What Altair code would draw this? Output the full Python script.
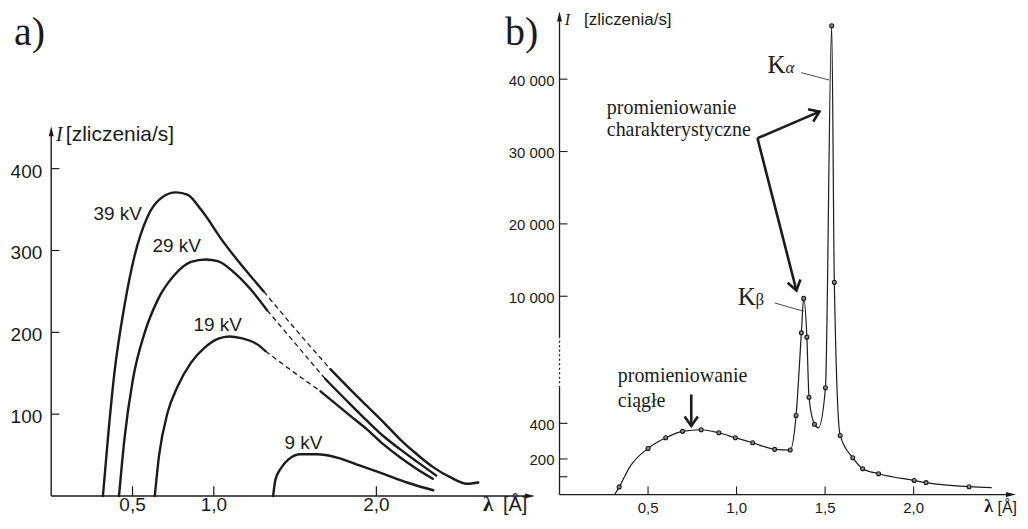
import altair as alt
import pandas as pd

# ---------------- panel a: continuous spectra for four tube voltages ----------------
v39_rise_lam = [0.318, 0.348, 0.389, 0.450, 0.512, 0.594, 0.676, 0.768, 0.840, 0.921, 1.064, 1.208, 1.307]
v39_rise_I = [0, 69, 151, 232, 293, 342, 364, 371, 368, 350, 309, 273, 250]
v39_dash_lam = [1.307, 1.510, 1.717]
v39_dash_I = [250, 202, 155]
v39_tail_lam = [1.717, 1.840, 1.942, 2.044, 2.147, 2.249, 2.351, 2.454, 2.556, 2.627]
v39_tail_I = [155, 130, 110, 90, 69, 51, 35, 23, 15, 16.5]

v29_rise_lam = [0.417, 0.450, 0.502, 0.574, 0.656, 0.758, 0.860, 0.952, 1.024, 1.126, 1.229, 1.328]
v29_rise_I = [0, 69, 142, 199, 240, 270, 286, 289, 287, 273, 252, 227]
v29_dash_lam = [1.328, 1.507, 1.686]
v29_dash_I = [227, 185, 143]
v29_tail_lam = [1.686, 1.840, 1.942, 2.044, 2.147, 2.249, 2.368]
v29_tail_I = [143, 112, 92, 73, 57, 42, 25]

v19_rise_lam = [0.637, 0.663, 0.716, 0.778, 0.860, 0.942, 1.024, 1.096, 1.167, 1.270, 1.318]
v19_rise_I = [0, 49, 102, 134, 163, 181, 192, 195, 193, 185, 177]
v19_dash_lam = [1.318, 1.487, 1.656]
v19_dash_I = [177, 152, 128]
v19_tail_lam = [1.656, 1.840, 1.942, 2.044, 2.147, 2.249, 2.347]
v19_tail_I = [128, 98, 81.5, 63, 47, 33, 21]

v9_lam = [1.365, 1.379, 1.410, 1.461, 1.533, 1.635, 1.758, 1.901, 2.044, 2.188, 2.350]
v9_I = [0, 20, 33, 45, 51, 51, 47, 37, 27, 16.5, 7]

a_curve_names = ["39 kV", "29 kV", "19 kV", "9 kV"]
a_label_lam = [0.409, 0.772, 1.024, 1.551]
a_label_I = [344.5, 305.5, 209, 65]

a_xticks = [0.5, 1.0, 2.0]
a_xlabels = ["0,5", "1,0", "2,0"]
a_yticks = [100, 200, 300, 400]
a_ylabels = ["100", "200", "300", "400"]

# ---------------- panel b: spectrum with characteristic lines ----------------
b_lam = [0.312, 0.337, 0.40, 0.50, 0.60, 0.695, 0.80, 0.90, 0.993, 1.091, 1.215, 1.303,
         1.336, 1.366, 1.379, 1.397, 1.409, 1.440, 1.462, 1.502, 1.537, 1.552, 1.585,
         1.656, 1.712, 1.802, 2.003, 2.07, 2.313, 2.441]
b_I = [0, 43, 160, 259, 319, 355, 364, 347, 319, 291, 254, 250,
       444, 4940, 9700, 4350, 547, 395, 375, 600, 47380, 11930, 332,
       207, 145, 117, 79, 67, 44, 39]
b_marker = [0, 1, 0, 1, 1, 1, 1, 1, 1, 1, 1, 1,
            1, 1, 1, 1, 1, 1, 0, 1, 1, 1, 1,
            1, 1, 1, 1, 1, 1, 0]

b_xticks = [0.5, 1.0, 1.5, 2.0]
b_xlabels = ["0,5", "1,0", "1,5", "2,0"]
b_yticks = [100, 200, 400, 10000, 20000, 30000, 40000]
b_ylabels = ["", "200", "400", "10 000", "20 000", "30 000", "40 000"]

# ---------------- style ----------------
INK = "#1b1b1b"
SANS = "Liberation Sans"
SERIF = "Liberation Serif"
AXIS_HEAD = "M0,0L-2,-0.5L-2,0.5Z"
OPEN_HEAD = "M-1.6,-1.1L0,0L-1.6,1.1"

sxa = alt.Scale(domain=[-0.2597, 3.006], nice=False, zero=False)
sya = alt.Scale(domain=[-22.6, 594.5], nice=False, zero=False)
sxb = alt.Scale(domain=[-0.1105, 2.595], nice=False, zero=False)
syb = alt.Scale(domain=[-112, 0, 600, 4250, 49628], range=[506, 486, 379, 329, 0],
                nice=False, zero=False)


def X(f, s):
    return alt.X(f, type="quantitative", scale=s, axis=None)


def Y(f, s):
    return alt.Y(f, type="quantitative", scale=s, axis=None)


def rules(df, sx, sy, **kw):
    return alt.Chart(df).mark_rule(color=INK, **kw).encode(
        x=X("x", sx), x2=alt.X2("x2"), y=Y("y", sy), y2=alt.Y2("y2"))


def texts(df, sx, sy, **kw):
    return alt.Chart(df).mark_text(color=INK, **kw).encode(
        x=X("x", sx), y=Y("y", sy), text="t:N")


def heads(df, sx, sy, shape, filled, size, **kw):
    return alt.Chart(df).mark_point(shape=shape, filled=filled, size=size, color=INK,
                                    opacity=1, **kw).encode(
        x=X("x", sx), y=Y("y", sy), angle=alt.Angle("ang:Q", scale=None))


# ---------------- panel a ----------------
segs = [
    ("39", "rise", "solid", v39_rise_lam, v39_rise_I),
    ("39", "dash", "dashed", v39_dash_lam, v39_dash_I),
    ("39", "tail", "solid", v39_tail_lam, v39_tail_I),
    ("29", "rise", "solid", v29_rise_lam, v29_rise_I),
    ("29", "dash", "dashed", v29_dash_lam, v29_dash_I),
    ("29", "tail", "solid", v29_tail_lam, v29_tail_I),
    ("19", "rise", "solid", v19_rise_lam, v19_rise_I),
    ("19", "dash", "dashed", v19_dash_lam, v19_dash_I),
    ("19", "tail", "solid", v19_tail_lam, v19_tail_I),
    ("9", "all", "solid", v9_lam, v9_I),
]
rows = []
for kv, part, kind, lams, Is in segs:
    for l, i in zip(lams, Is):
        rows.append({"seg": kv + part, "kind": kind, "lam": l, "I": i})
df_a = pd.DataFrame(rows)

a_solid = alt.Chart(df_a[df_a.kind == "solid"]).mark_line(
    color=INK, strokeWidth=2.4, interpolate="monotone", strokeCap="round").encode(
    x=X("lam", sxa), y=Y("I", sya), detail="seg:N")
a_dash = alt.Chart(df_a[df_a.kind == "dashed"]).mark_line(
    color=INK, strokeWidth=1.3, strokeDash=[5, 3.5], interpolate="monotone").encode(
    x=X("lam", sxa), y=Y("I", sya), detail="seg:N")

a_axes = rules(pd.DataFrame({"x": [0, 0], "x2": [0, 2.94], "y": [0, 0], "y2": [446, 0]}),
               sxa, sya, strokeWidth=1.4)
a_heads = heads(pd.DataFrame({"x": [0, 2.975], "y": [451.8, 0], "ang": [270, 0]}),
                sxa, sya, AXIS_HEAD, True, 100, strokeWidth=0)
a_yt = rules(pd.DataFrame({"x": 0, "x2": 0.05, "y": a_yticks, "y2": a_yticks}), sxa, sya, strokeWidth=1.2)
a_xt = rules(pd.DataFrame({"x": a_xticks, "x2": a_xticks, "y": 0, "y2": 12}), sxa, sya, strokeWidth=1.2)
a_ylab = texts(pd.DataFrame({"x": 0, "y": a_yticks, "t": a_ylabels}), sxa, sya,
               font=SANS, fontSize=19, align="right", baseline="middle", dx=-9, dy=3)
a_xlab = texts(pd.DataFrame({"x": a_xticks, "y": 0, "t": a_xlabels}), sxa, sya,
               font=SANS, fontSize=19, align="center", baseline="bottom", dy=19.5)
a_kv = texts(pd.DataFrame({"x": a_label_lam, "y": a_label_I, "t": a_curve_names}), sxa, sya,
             font=SANS, fontSize=19, align="center", baseline="middle")
a_t_I = texts(pd.DataFrame({"x": [0.029], "y": [440.9], "t": ["I"]}), sxa, sya,
              font=SERIF, fontSize=20, fontStyle="italic", align="left", baseline="middle")
a_t_unit = texts(pd.DataFrame({"x": [0.090], "y": [440.9], "t": ["[zliczenia/s]"]}), sxa, sya,
                 font=SANS, fontSize=21, align="left", baseline="middle")
a_t_lam = texts(pd.DataFrame({"x": [2.656], "y": [0], "t": ["λ"]}), sxa, sya,
                font=SERIF, fontSize=21, fontWeight="bold", align="left", baseline="bottom", dy=19.5)
a_t_A = texts(pd.DataFrame({"x": [2.778], "y": [0], "t": ["[Å]"]}), sxa, sya,
              font=SANS, fontSize=20, align="left", baseline="bottom", dy=19.5)
a_tag = texts(pd.DataFrame({"x": [-0.229], "y": [550.6], "t": ["a)"]}), sxa, sya,
              font=SERIF, fontSize=40, align="left", baseline="alphabetic")

panel_a = alt.layer(a_axes, a_heads, a_yt, a_xt, a_ylab, a_xlab, a_solid, a_dash, a_kv,
                    a_t_I, a_t_unit, a_t_lam, a_t_A, a_tag).properties(width=532, height=506)

# ---------------- panel b ----------------
df_b = pd.DataFrame({"lam": b_lam, "I": b_I, "m": b_marker})
b_line = alt.Chart(df_b).mark_line(color=INK, strokeWidth=1.2, interpolate="monotone").encode(
    x=X("lam", sxb), y=Y("I", syb))
b_pts = alt.Chart(df_b[df_b.m == 1]).mark_point(
    shape="circle", filled=True, fill="#8a8a8a", stroke=INK, strokeWidth=1.1, size=16, opacity=1).encode(
    x=X("lam", sxb), y=Y("I", syb))

b_axes = rules(pd.DataFrame({"x": [0, 0, 0], "x2": [0, 0, 2.55], "y": [0, 4250, 0], "y2": [600, 48000, 0]}),
               sxb, syb, strokeWidth=1.3)
b_axis_dot = rules(pd.DataFrame({"x": [0], "x2": [0], "y": [600], "y2": [4250]}),
                   sxb, syb, strokeWidth=1.3, strokeDash=[2, 2.5])
b_heads = heads(pd.DataFrame({"x": [0, 2.578], "y": [49352, 0], "ang": [270, 0]}),
                sxb, syb, AXIS_HEAD, True, 100, strokeWidth=0)
b_yt = rules(pd.DataFrame({"x": 0, "x2": 0.045, "y": b_yticks, "y2": b_yticks}), sxb, syb, strokeWidth=1.1)
b_xt = rules(pd.DataFrame({"x": b_xticks, "x2": b_xticks, "y": 0, "y2": 45}), sxb, syb, strokeWidth=1.1)
ylab_df = pd.DataFrame({"x": 0, "y": b_yticks, "t": b_ylabels})
b_ylab = texts(ylab_df[ylab_df.t != ""], sxb, syb,
               font=SANS, fontSize=15, align="right", baseline="middle", dx=-5, dy=1.5)
b_xlab = texts(pd.DataFrame({"x": b_xticks, "y": 0, "t": b_xlabels}), sxb, syb,
               font=SANS, fontSize=15, align="center", baseline="bottom", dy=21)
b_t_I = texts(pd.DataFrame({"x": [0.030], "y": [48110], "t": ["I"]}), sxb, syb,
              font=SERIF, fontSize=16, fontStyle="italic", align="left", baseline="middle")
b_t_unit = texts(pd.DataFrame({"x": [0.138], "y": [48110], "t": ["[zliczenia/s]"]}), sxb, syb,
                 font=SANS, fontSize=17, align="left", baseline="middle")
b_t_lam = texts(pd.DataFrame({"x": [2.449], "y": [0], "t": ["λ"]}), sxb, syb,
                font=SERIF, fontSize=18, fontWeight="bold", align="right", baseline="bottom", dy=21)
b_t_A = texts(pd.DataFrame({"x": [2.584], "y": [0], "t": ["[Å]"]}), sxb, syb,
              font=SANS, fontSize=16, align="right", baseline="bottom", dy=21)
b_tag = texts(pd.DataFrame({"x": [-0.308], "y": [44662], "t": ["b)"]}), sxb, syb,
              font=SERIF, fontSize=40, align="left", baseline="alphabetic")

# annotations
b_K = texts(pd.DataFrame({"x": [1.175, 1.006], "y": [40800, 8800], "t": ["K", "K"]}), sxb, syb,
            font=SERIF, fontSize=25, align="left", baseline="alphabetic")
b_alpha = texts(pd.DataFrame({"x": [1.276], "y": [40800], "t": ["α"]}), sxb, syb,
                font=SERIF, fontSize=17, fontStyle="italic", align="left", baseline="alphabetic")
b_beta = texts(pd.DataFrame({"x": [1.107], "y": [8800], "t": ["β"]}), sxb, syb,
               font=SERIF, fontSize=17, align="left", baseline="alphabetic")
b_leaders = rules(pd.DataFrame({"x": [1.365, 1.215], "x2": [1.524, 1.378],
                                "y": [40897, 9076], "y2": [39876, 7931]}),
                  sxb, syb, strokeWidth=0.8)
b_notes = texts(pd.DataFrame({"x": [0.267, 0.267, 0.329, 0.329],
                              "y": [35145, 32110, 1038, 493],
                              "t": ["promieniowanie", "charakterystyczne", "promieniowanie", "ciągłe"]}),
                sxb, syb, font=SERIF, fontSize=20, align="left", baseline="alphabetic")
b_arrows = rules(pd.DataFrame({"x": [1.118, 1.118, 0.744], "x2": [1.468, 1.338, 0.744],
                               "y": [31834, 31834, 562], "y2": [35517, 10800, 385]}),
                 sxb, syb, strokeWidth=2.6)
b_arrowheads = heads(pd.DataFrame({"x": [1.468, 1.338, 0.744], "y": [35517, 10800, 385],
                                   "ang": [336.7, 75.7, 90]}),
                     sxb, syb, OPEN_HEAD, False, 144, strokeWidth=2.6, strokeJoin="miter")

panel_b = alt.layer(b_axes, b_axis_dot, b_heads, b_yt, b_xt, b_ylab, b_xlab, b_line, b_pts,
                    b_t_I, b_t_unit, b_t_lam, b_t_A, b_tag, b_K, b_alpha, b_beta, b_leaders,
                    b_notes, b_arrows, b_arrowheads).properties(width=480, height=506)

chart = alt.hconcat(panel_a, panel_b, spacing=0, bounds="flush").properties(
    padding=0, background="white").configure_view(stroke="transparent")

chart.save("out.html", embed_options={"renderer": "svg", "actions": False})
